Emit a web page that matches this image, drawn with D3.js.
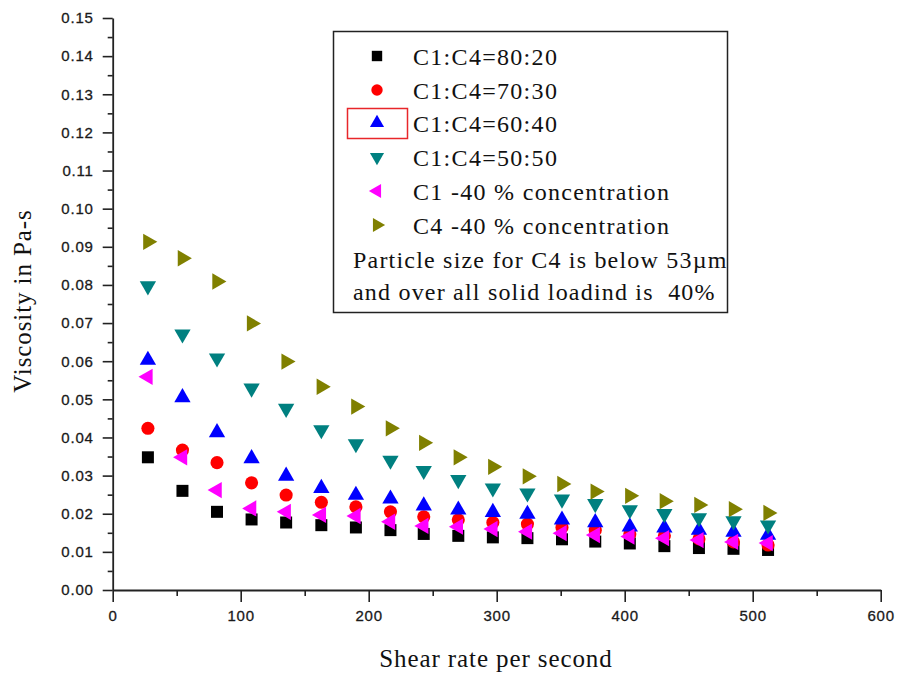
<!DOCTYPE html>
<html>
<head>
<meta charset="utf-8">
<script src="https://cdn.jsdelivr.net/npm/d3@7"></script>
<style>
  html, body { margin: 0; padding: 0; background: #fff; }
  svg { display: block; }
</style>
</head>
<body>
<svg id="chart" width="899" height="677"></svg>
<script>
// Shear rate (1/s) at which each viscosity reading was taken
const shearRate = [27.5, 54.5, 81.5, 108.5, 135.5, 163, 190, 217, 243, 270, 297, 324, 351, 377, 404, 431, 458, 485, 512];

// Viscosity (Pa-s) for each blend
const ratio8020 = [0.0348, 0.0260, 0.0205, 0.0185, 0.0177, 0.0170, 0.0164, 0.0157, 0.0147, 0.0142, 0.0138, 0.0136, 0.0133, 0.0127, 0.0122, 0.0115, 0.0110, 0.0108, 0.0105];
const ratio7030 = [0.0424, 0.0367, 0.0334, 0.0281, 0.0249, 0.0230, 0.0218, 0.0205, 0.0192, 0.0184, 0.0177, 0.0173, 0.0164, 0.0157, 0.0147, 0.0142, 0.0134, 0.0126, 0.0118];
const ratio6040 = [0.0603, 0.0505, 0.0413, 0.0345, 0.0299, 0.0267, 0.0249, 0.0239, 0.0221, 0.0210, 0.0204, 0.0199, 0.0184, 0.0177, 0.0166, 0.0163, 0.0157, 0.0152, 0.0144];
const ratio5050 = [0.0797, 0.0671, 0.0608, 0.0529, 0.0476, 0.0420, 0.0383, 0.0340, 0.0313, 0.0289, 0.0267, 0.0254, 0.0238, 0.0226, 0.0210, 0.0200, 0.0189, 0.0181, 0.0170];
const c1Only    = [0.0559, 0.0348, 0.0262, 0.0214, 0.0205, 0.0197, 0.0194, 0.0179, 0.0168, 0.0166, 0.0160, 0.0153, 0.0149, 0.0144, 0.0140, 0.0136, 0.0131, 0.0126, 0.0123];
const c4Only    = [0.0913, 0.0870, 0.0809, 0.0699, 0.0599, 0.0533, 0.0481, 0.0424, 0.0386, 0.0348, 0.0323, 0.0298, 0.0278, 0.0258, 0.0247, 0.0233, 0.0223, 0.0212, 0.0202];

const seriesNames = ["C1:C4=80:20", "C1:C4=70:30", "C1:C4=60:40", "C1:C4=50:50", "C1 -40 % concentration", "C4 -40 % concentration"];
const seriesValues = [ratio8020, ratio7030, ratio6040, ratio5050, c1Only, c4Only];

// Axis ticks
const xTicks = [0, 100, 200, 300, 400, 500, 600];
const xMinorTicks = [50, 150, 250, 350, 450, 550];
const yTicks = [0, 0.01, 0.02, 0.03, 0.04, 0.05, 0.06, 0.07, 0.08, 0.09, 0.10, 0.11, 0.12, 0.13, 0.14, 0.15];
const yMinorTicks = [0.005, 0.015, 0.025, 0.035, 0.045, 0.055, 0.065, 0.075, 0.085, 0.095, 0.105, 0.115, 0.125, 0.135, 0.145];

const noteLines = ["Particle size for C4 is below 53\u00b5m", "and over all solid loadind is  40%"];

// Marker style per series
const markerStyles = [
  { shape: d3.symbolSquare,   size: 144, rotate: 0,   color: "#000000" },
  { shape: d3.symbolCircle,   size: 135, rotate: 0,   color: "#ff0000" },
  { shape: d3.symbolTriangle, size: 115, rotate: 0,   color: "#0000ff" },
  { shape: d3.symbolTriangle, size: 115, rotate: 180, color: "#008080" },
  { shape: d3.symbolTriangle, size: 115, rotate: -90, color: "#ff00ff" },
  { shape: d3.symbolTriangle, size: 115, rotate: 90,  color: "#808000" }
];

const serif = "Liberation Serif, Times New Roman, serif";
const sans = "Liberation Sans, Arial, sans-serif";

const svg = d3.select("#chart");
svg.append("rect").attr("width", 899).attr("height", 677).attr("fill", "#fff");

const x = d3.scaleLinear().domain([0, 600]).range([112.7, 880.7]);
const y = d3.scaleLinear().domain([0, 0.15]).range([590, 18]);

const axisColor = "#222";

// Y axis: major ticks with labels, minor ticks without
svg.append("g").attr("transform", `translate(${x(0)},0)`)
  .call(d3.axisLeft(y).tickValues(yTicks).tickFormat(d3.format(".2f")).tickSize(10).tickSizeOuter(0).tickPadding(9));
svg.append("g").attr("transform", `translate(${x(0)},0)`)
  .call(d3.axisLeft(y).tickValues(yMinorTicks).tickFormat("").tickSize(5).tickSizeOuter(0))
  .call(g => g.select(".domain").remove());

// X axis
svg.append("g").attr("transform", `translate(0,${y(0)})`)
  .call(d3.axisBottom(x).tickValues(xTicks).tickFormat(d3.format("d")).tickSize(12).tickSizeOuter(0).tickPadding(8));
svg.append("g").attr("transform", `translate(0,${y(0)})`)
  .call(d3.axisBottom(x).tickValues(xMinorTicks).tickFormat("").tickSize(6).tickSizeOuter(0))
  .call(g => g.select(".domain").remove());

svg.selectAll(".domain").attr("stroke", axisColor).attr("stroke-width", 1.8);
svg.selectAll(".tick line").attr("stroke", axisColor).attr("stroke-width", 1.6);
svg.selectAll(".tick text")
  .attr("font-family", sans)
  .attr("font-size", 15)
  .attr("letter-spacing", 0.8)
  .attr("fill", "#1a1a1a")
  .attr("stroke", "#1a1a1a")
  .attr("stroke-width", 0.3);

// Axis titles
svg.append("text")
  .attr("x", 496).attr("y", 667)
  .attr("text-anchor", "middle")
  .attr("font-family", serif)
  .attr("font-size", 25)
  .attr("letter-spacing", 0.9)
  .attr("fill", "#111")
  .text("Shear rate per second");

svg.append("text")
  .attr("transform", "translate(31,301) rotate(-90)")
  .attr("text-anchor", "middle")
  .attr("font-family", serif)
  .attr("font-size", 25)
  .attr("letter-spacing", 0.9)
  .attr("fill", "#111")
  .text("Viscosity in Pa-s");

// Data markers
seriesValues.forEach((vals, i) => {
  const s = markerStyles[i];
  svg.append("g").attr("class", "series")
    .selectAll("path")
    .data(vals.map((v, j) => [shearRate[j], v]))
    .join("path")
    .attr("d", d3.symbol().type(s.shape).size(s.size)())
    .attr("fill", s.color)
    .attr("transform", d => `translate(${x(d[0])},${y(d[1])}) rotate(${s.rotate})`);
});

// Legend
const legend = svg.append("g");
legend.append("rect")
  .attr("x", 333.5).attr("y", 31.5).attr("width", 394).attr("height", 281)
  .attr("fill", "#fff").attr("stroke", "#222").attr("stroke-width", 1.5);

const legendRowY = [56, 90, 123, 157, 191, 225];
seriesNames.forEach((name, i) => {
  const s = markerStyles[i];
  legend.append("path")
    .attr("d", d3.symbol().type(s.shape).size(s.size * 0.75)())
    .attr("fill", s.color)
    .attr("transform", `translate(377,${legendRowY[i]}) rotate(${s.rotate})`);
  legend.append("text")
    .attr("x", 413).attr("y", legendRowY[i] + 9)
    .attr("font-family", serif)
    .attr("font-size", 24)
    .attr("letter-spacing", 1.3)
    .attr("fill", "#111")
    .text(name);
});

// Highlight frame around the 60:40 legend symbol
legend.append("rect")
  .attr("x", 347.5).attr("y", 108.5).attr("width", 60).attr("height", 30)
  .attr("fill", "none").attr("stroke", "#e8262a").attr("stroke-width", 1.5);

noteLines.forEach((line, i) => {
  legend.append("text")
    .attr("x", 353).attr("y", 268 + i * 32)
    .attr("font-family", serif)
    .attr("font-size", 24)
    .attr("letter-spacing", 1.2)
    .style("white-space", "pre")
    .attr("fill", "#111")
    .text(line);
});
</script>
</body>
</html>
